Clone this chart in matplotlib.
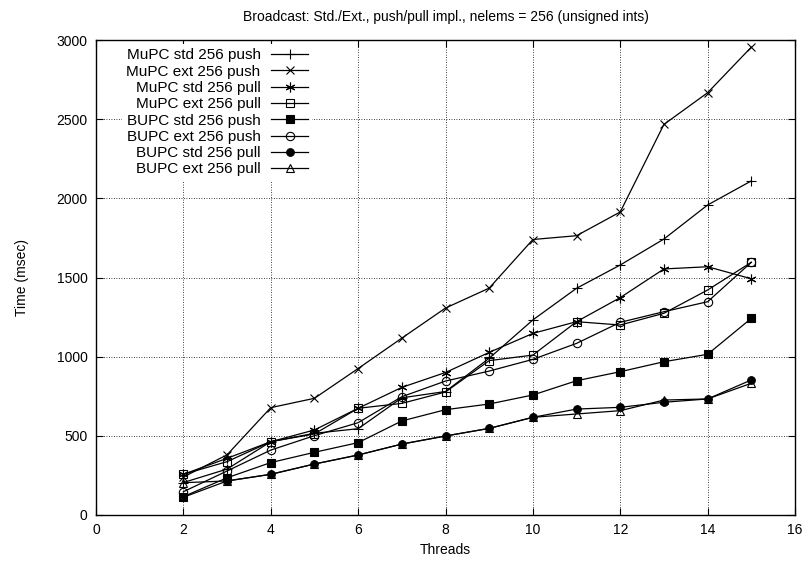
import matplotlib
matplotlib.use("Agg")
import matplotlib.pyplot as plt

threads = [2, 3, 4, 5, 6, 7, 8, 9, 10, 11, 12, 13, 14, 15]

mupc_std_push = [205, 290, 463, 516, 545, 740, 780, 990, 1232, 1432, 1579, 1743, 1958, 2110]
mupc_ext_push = [240, 380, 678, 737, 925, 1117, 1307, 1433, 1740, 1764, 1914, 2467, 2667, 2955]
mupc_std_pull = [257, 358, 463, 537, 674, 806, 900, 1027, 1147, 1221, 1373, 1554, 1568, 1492]
mupc_ext_pull = [257, 337, 463, 512, 674, 705, 777, 975, 1010, 1221, 1200, 1274, 1421, 1596]
bupc_std_push = [116, 235, 331, 396, 457, 594, 665, 701, 758, 848, 905, 968, 1015, 1242]
bupc_ext_push = [147, 278, 410, 501, 583, 747, 846, 909, 983, 1084, 1217, 1284, 1347, 1596]
bupc_std_pull = [112, 215, 257, 322, 379, 448, 499, 547, 617, 669, 680, 712, 733, 853]
bupc_ext_pull = [204, 215, 257, 322, 379, 448, 499, 547, 617, 638, 659, 726, 733, 832]

labels = ["MuPC std 256 push", "MuPC ext 256 push", "MuPC std 256 pull", "MuPC ext 256 pull",
          "BUPC std 256 push", "BUPC ext 256 push", "BUPC std 256 pull", "BUPC ext 256 pull"]

plt.rcParams['font.family'] = ['Liberation Sans', 'DejaVu Sans']

fig = plt.figure(figsize=(8.06, 5.62), dpi=100)
ax = fig.add_axes([96/806, 1 - 515/562, (795-96)/806, (515-40)/562])

series = [mupc_std_push, mupc_ext_push, mupc_std_pull, mupc_ext_pull,
          bupc_std_push, bupc_ext_push, bupc_std_pull, bupc_ext_pull]
styles = [
    dict(marker='+', ms=7, mfc='black', mew=0.8),
    dict(marker='x', ms=6, mfc='black', mew=0.8),
    dict(marker=(6, 2, 0), ms=7, mfc='black', mew=0.8),
    dict(marker='s', ms=6, mfc='none', mew=0.8),
    dict(marker='s', ms=6, mfc='black', mew=0.8),
    dict(marker='o', ms=6, mfc='none', mew=0.8),
    dict(marker='o', ms=5.5, mfc='black', mew=0.8),
    dict(marker='^', ms=6, mfc='none', mew=0.8),
]
for ys, lab, st in zip(series, labels, styles):
    ax.plot(threads, ys, color='black', lw=0.9, mec='black', label=lab, **st)

ax.set_xlim(0, 16)
ax.set_ylim(0, 3000)
ax.set_xticks(range(0, 17, 2))
ax.set_yticks(range(0, 3001, 500))
ax.grid(True, color='black', linestyle=(0, (1, 2)), lw=0.6)
ax.tick_params(direction='in', top=True, right=True, labelsize=10, length=5, width=0.8, pad=6)
for s in ax.spines.values():
    s.set_linewidth(1.0)

ax.set_xlabel("Threads", fontsize=10, labelpad=4)
ax.set_ylabel("Time (msec)", fontsize=10, labelpad=20)
ax.set_title("Broadcast: Std./Ext., push/pull impl., nelems = 256 (unsigned ints)", fontsize=10, pad=14)

leg = ax.legend(loc='upper left', bbox_to_anchor=(0.0315, 1.0), frameon=True, markerfirst=False,
                fontsize=11, handlelength=2.4, labelspacing=0.15, borderpad=0.3,
                handletextpad=0.7, fancybox=False, borderaxespad=0.25)
leg.get_frame().set_edgecolor('none')
leg.get_frame().set_facecolor('white')
leg.get_frame().set_alpha(1.0)
for t in leg.get_texts():
    t.set_ha('right')
for vp in leg._legend_box.get_children()[1].get_children():
    vp.align = "right"

fig.savefig("out.png", dpi=100)
